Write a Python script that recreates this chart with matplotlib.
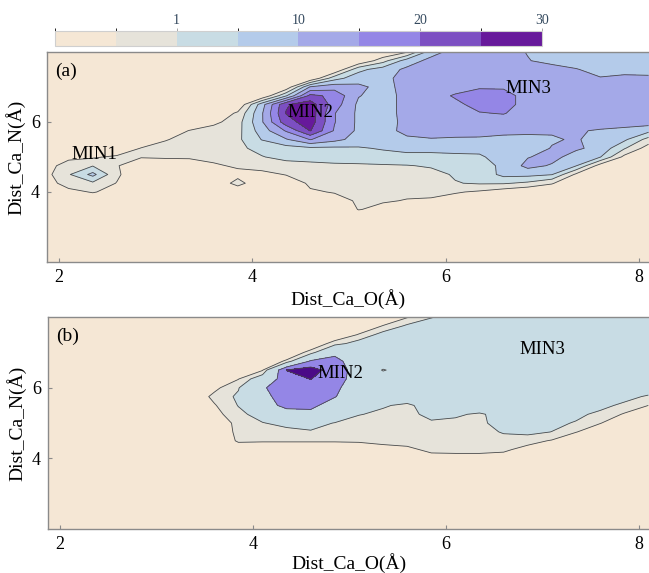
import numpy as np
import matplotlib
matplotlib.use('Agg')
import matplotlib.pyplot as plt
from matplotlib.colors import ListedColormap, BoundaryNorm
import matplotlib.cm as cm

plt.rcParams['font.family'] = ['Liberation Serif', 'DejaVu Serif']

# grid positions (Angstrom)
dist_ca_o = [1.85, 2.1, 2.35, 2.6, 2.85, 3.1, 3.35, 3.6, 3.85, 4.1, 4.35, 4.6, 4.85,
             5.1, 5.35, 5.6, 5.85, 6.1, 6.35, 6.6, 6.85, 7.1, 7.35, 7.6, 7.85, 8.1]
dist_ca_n = [2.0, 2.25, 2.5, 2.75, 3.0, 3.25, 3.5, 3.75, 4.0, 4.25, 4.5, 4.75, 5.0,
             5.25, 5.5, 5.75, 6.0, 6.25, 6.5, 6.75, 7.0, 7.25, 7.5, 7.75, 8.0]

Z0 = [0] * 26

# panel (a) in contour-band units, one row per Dist_Ca_N value
map_a = [
    Z0, Z0, Z0, Z0, Z0, Z0,
    [0, 0, 0, 0, 0, 0, 0, 0, 0, 0, 0, 0, 0, 1.05, 0.7, 0, 0, 0, 0, 0, 0, 0, 0, 0, 0, 0],
    [0, 0, 0, 0, 0, 0, 0, 0, 0, 0, 0, 0.6, 0.7, 1.1, 1.1, 0.95, 0.9, 0.5, 0.2, 0, 0, 0, 0, 0, 0, 0],
    [0, 0.6, 1.1, 0.5, 0, 0, 0, 0, 0, 0, 0, 0.9, 1.05, 1.1, 1.2, 1.2, 1.2, 1.1, 0.85, 0.4, 0, 0, 0, 0, 0, 0],
    [0.3, 1.6, 1.8, 0.95, 0, 0, 0, 0, 1.45, 0, 0.4, 1.15, 1.3, 1.3, 1.35, 1.35, 1.4, 1.95, 2.1, 2.1, 1.8, 1.1, 0, 0, 0, 0],
    [0.6, 1.9, 3.3, 1.2, 0, 0, 0, 0, 0.6, 0.7, 1.05, 1.3, 1.4, 1.5, 1.5, 1.6, 1.7, 2.1, 2.3, 3.3, 3.3, 3.05, 0.8, 0, 0, 0],
    [0.3, 1.7, 1.95, 1.1, 0, 0, 0.6, 0.8, 1.2, 1.4, 1.6, 1.7, 1.8, 1.85, 1.9, 1.95, 2.1, 2.3, 2.6, 3.2, 4.3, 3.9, 3.05, 0.5, 0, 0],
    [0, 0.6, 0.85, 1.2, 1.1, 1.2, 1.1, 1.4, 1.6, 1.95, 2.3, 2.4, 2.5, 2.5, 2.6, 2.7, 2.7, 2.8, 2.9, 3.3, 3.95, 4.3, 3.6, 3.05, 0.7, 0],
    [0, 0, 0, 0, 1.05, 1.5, 1.4, 1.6, 1.8, 2.3, 2.6, 2.8, 2.8, 2.9, 3.1, 3.3, 3.3, 3.3, 3.2, 3.4, 3.5, 4.05, 4.15, 3.7, 2.1, 0.5],
    [0, 0, 0, 0, 0, 0.9, 1.5, 1.6, 1.8, 3.05, 3.9, 5.05, 4.3, 3.6, 3.6, 3.8, 3.95, 3.9, 3.9, 3.8, 3.8, 3.9, 4.1, 3.6, 3.2, 1.6],
    [0, 0, 0, 0, 0, 0.2, 1.05, 1.5, 1.7, 3.5, 5.1, 7.05, 4.9, 3.8, 3.6, 4.3, 4.3, 4.3, 4.25, 4.2, 4.15, 4.1, 4.1, 3.9, 3.7, 3.3],
    [0, 0, 0, 0, 0, 0, 0, 0.7, 1.6, 3.9, 6.6, 7.5, 5.05, 3.8, 3.6, 4.25, 4.5, 4.5, 4.6, 4.6, 4.5, 4.5, 4.5, 4.5, 4.5, 4.5],
    [0, 0, 0, 0, 0, 0, 0, 0, 1.2, 3.9, 7.05, 7.6, 5.05, 3.8, 3.6, 4.3, 4.5, 4.6, 4.95, 5.05, 4.6, 4.5, 4.5, 4.5, 4.5, 4.5],
    [0, 0, 0, 0, 0, 0, 0, 0, 0, 3.6, 6.9, 7.5, 5.5, 3.8, 3.6, 4.3, 4.6, 4.8, 5.3, 5.3, 4.7, 4.5, 4.5, 4.5, 4.5, 4.5],
    [0, 0, 0, 0, 0, 0, 0, 0, 0, 0, 2.9, 6.3, 5.7, 4.05, 3.6, 4.3, 4.6, 5.1, 5.4, 5.3, 4.7, 4.5, 4.5, 4.5, 4.5, 4.5],
    [0, 0, 0, 0, 0, 0, 0, 0, 0, 0, 0.2, 4.1, 4.6, 4.2, 3.7, 4.3, 4.5, 4.6, 4.9, 4.9, 4.6, 4.5, 4.5, 4.4, 4.4, 4.4],
    [0, 0, 0, 0, 0, 0, 0, 0, 0, 0, 0, 0, 2.6, 3.6, 3.7, 4.4, 4.5, 4.6, 4.6, 4.6, 4.5, 4.4, 4.3, 4.05, 4.2, 4.15],
    [0, 0, 0, 0, 0, 0, 0, 0, 0, 0, 0, 0, 0, 2.7, 3.5, 4.2, 4.4, 4.5, 4.5, 4.5, 4.5, 4.4, 4.05, 3.7, 3.7, 3.7],
    [0, 0, 0, 0, 0, 0, 0, 0, 0, 0, 0, 0, 0, 0, 1.6, 3.5, 4.3, 4.5, 4.5, 4.4, 4.05, 3.7, 3.6, 3.6, 3.6, 3.6],
    [0, 0, 0, 0, 0, 0, 0, 0, 0, 0, 0, 0, 0, 0, 0, 0.9, 3.6, 4.4, 4.5, 4.4, 3.95, 3.6, 3.6, 3.6, 3.6, 3.6],
]

# panel (b)
map_b = [
    Z0, Z0, Z0, Z0, Z0, Z0, Z0, Z0,
    [0, 0, 0, 0, 0, 0, 0, 0, 0, 0, 0, 0, 0, 0, 0, 0, 0.5, 0.6, 0.6, 0.5, 0, 0, 0, 0, 0, 0],
    [0, 0, 0, 0, 0, 0, 0, 0, 0.3, 0.3, 0.3, 0.3, 0.3, 0.3, 0.6, 0.7, 1.3, 1.3, 1.3, 1.2, 0.6, 0, 0, 0, 0, 0],
    [0, 0, 0, 0, 0, 0, 0, 0, 1.15, 1.1, 1.1, 1.1, 1.1, 1.15, 1.3, 1.5, 1.6, 1.6, 1.6, 1.8, 1.4, 0.9, 0, 0, 0, 0],
    [0, 0, 0, 0, 0, 0, 0, 0, 1.3, 1.5, 1.7, 1.9, 1.85, 1.6, 1.5, 1.6, 1.7, 1.75, 1.8, 2.05, 2.3, 1.98, 1.05, 0.2, 0, 0],
    [0, 0, 0, 0, 0, 0, 0, 0, 1.4, 1.95, 2.3, 2.4, 1.95, 1.6, 1.6, 1.6, 1.9, 1.85, 1.85, 2.3, 2.5, 2.3, 1.9, 1.05, 0.2, 0],
    [0, 0, 0, 0, 0, 0, 0, 0.6, 1.7, 2.5, 4.0, 4.4, 2.9, 2.05, 1.8, 1.8, 2.2, 2.1, 1.9, 2.3, 2.6, 2.6, 2.3, 1.7, 0.9, 0.3],
    [0, 0, 0, 0, 0, 0, 0, 0.9, 2.05, 4.0, 5.6, 5.5, 4.0, 3.0, 2.1, 1.8, 2.5, 2.6, 2.6, 2.6, 2.7, 2.7, 2.7, 2.4, 1.7, 1.0],
    [0, 0, 0, 0, 0, 0, 0, 1.3, 2.2, 4.5, 5.8, 6.0, 5.1, 3.5, 3.1, 2.7, 3.0, 3.0, 3.0, 3.0, 3.0, 3.0, 3.0, 2.9, 2.5, 1.8],
    [0, 0, 0, 0, 0, 0, 0, 0.7, 1.9, 4.8, 6.0, 6.2, 5.4, 3.8, 3.2, 3.0, 3.0, 3.0, 3.0, 3.0, 3.0, 3.0, 3.0, 3.0, 3.0, 3.0],
    [0, 0, 0, 0, 0, 0, 0, 0, 0.95, 3.0, 6.3, 7.05, 5.9, 4.0, 3.2, 3.0, 3.0, 3.0, 3.0, 3.0, 3.0, 3.0, 3.0, 3.0, 3.0, 3.0],
    [0, 0, 0, 0, 0, 0, 0, 0, 0, 0.9, 7.05, 7.9, 6.0, 4.1, 1.85, 3.0, 3.0, 3.0, 3.0, 3.0, 3.0, 3.0, 3.0, 3.0, 3.0, 3.0],
    [0, 0, 0, 0, 0, 0, 0, 0, 0, 0, 1.2, 5.3, 5.5, 4.0, 3.4, 3.0, 3.0, 3.0, 3.0, 3.0, 3.0, 3.0, 3.0, 3.0, 3.0, 3.0],
    [0, 0, 0, 0, 0, 0, 0, 0, 0, 0, 0, 1.4, 4.6, 3.6, 3.2, 3.0, 3.0, 3.0, 3.0, 3.0, 3.0, 3.0, 3.0, 3.0, 3.0, 3.0],
    [0, 0, 0, 0, 0, 0, 0, 0, 0, 0, 0, 0, 1.5, 2.6, 3.0, 3.0, 3.0, 3.0, 3.0, 3.0, 3.0, 3.0, 3.0, 3.0, 3.0, 3.0],
    [0, 0, 0, 0, 0, 0, 0, 0, 0, 0, 0, 0, 0, 1.1, 2.5, 2.9, 3.0, 3.0, 3.0, 3.0, 3.0, 3.0, 3.0, 3.0, 3.0, 3.0],
    [0, 0, 0, 0, 0, 0, 0, 0, 0, 0, 0, 0, 0, 0, 1.05, 2.2, 2.8, 3.0, 3.0, 3.0, 3.0, 3.0, 3.0, 3.0, 3.0, 3.0],
    [0, 0, 0, 0, 0, 0, 0, 0, 0, 0, 0, 0, 0, 0, 0, 0.9, 1.9, 2.6, 3.0, 3.0, 3.0, 3.0, 3.0, 3.0, 3.0, 3.0],
]

band_colors = ['#f5e7d5', '#e6e3da', '#c8dce4', '#b4cbea', '#a4a9e8', '#9486e6', '#7c4fc2', '#67199b']
levels_a = [0, 1, 2, 3, 4, 5, 6, 7, 8]
levels_b = [0, 1, 2, 5, 7, 9]
colors_b = ['#f5e7d5', '#e6e3da', '#c8dce4', '#9486e6', '#4b0a87']

cbar_ticks = [2, 4, 6, 8]
cbar_labels = ['1', '10', '20', '30']

labels_a = [('MIN1', 2.37, 5.06), ('MIN2', 4.60, 6.26), ('MIN3', 6.86, 6.97)]
labels_b = [('MIN2', 4.91, 6.39), ('MIN3', 7.00, 7.07)]


def style_axes(ax, tag, lpad):
    ax.set_xlim(1.876, 8.114)
    ax.set_ylim(2.0, 8.0)
    ax.set_xticks([2, 4, 6, 8])
    ax.set_yticks([4, 6])
    ax.tick_params(direction='in', length=3, width=0.8, color='#8a8a8a',
                   labelsize=13, pad=5, top=False, right=False)
    for sp in ax.spines.values():
        sp.set_color('#8a8a8a')
        sp.set_linewidth(1.0)
    ax.set_xlabel('Dist_Ca_O(Å)', fontsize=14, labelpad=lpad)
    ax.set_ylabel('Dist_Ca_N(Å)', fontsize=14, labelpad=4)
    ax.text(0.013, 0.91, tag, transform=ax.transAxes, fontsize=14,
            ha='left', va='center')


fig = plt.figure(figsize=(6.49, 5.73), dpi=100)
ax_a = fig.add_axes([0.0724, 0.5428, 0.929, 0.3665])
ax_b = fig.add_axes([0.0740, 0.0765, 0.927, 0.3702])
cax = fig.add_axes([0.0847, 0.9202, 0.7504, 0.0262])

X, Y = np.meshgrid(dist_ca_o, dist_ca_n)
Za = np.array(map_a)
Zb = np.array(map_b)

ax_a.set_facecolor(band_colors[0])
ax_a.contourf(X, Y, Za, levels=levels_a, colors=band_colors)
ax_a.contour(X, Y, Za, levels=levels_a[1:-1], colors='#4a4a4a', linewidths=0.6)
for txt, x, y in labels_a:
    ax_a.text(x, y, txt, fontsize=13.5, ha='center', va='center')
style_axes(ax_a, '(a)', 2)

ax_b.set_facecolor(colors_b[0])
ax_b.contourf(X, Y, Zb, levels=levels_b, colors=colors_b)
ax_b.contour(X, Y, Zb, levels=levels_b[1:-1], colors='#4a4a4a', linewidths=0.6)
for txt, x, y in labels_b:
    ax_b.text(x, y, txt, fontsize=13.5, ha='center', va='center')
style_axes(ax_b, '(b)', 0)

cmap = ListedColormap(band_colors)
norm = BoundaryNorm(levels_a, cmap.N)
cb = fig.colorbar(cm.ScalarMappable(norm=norm, cmap=cmap), cax=cax,
                  orientation='horizontal')
cb.set_ticks(cbar_ticks)
cb.set_ticklabels(cbar_labels)
cax.xaxis.set_ticks_position('top')
cax.tick_params(labelsize=10, length=2, width=0.6, color='#9a9a9a',
                labelcolor='#34495e', pad=1)
cb.outline.set_edgecolor('#cfcfcf')
cb.outline.set_linewidth(0.8)

fig.savefig('out.png', dpi=100)
